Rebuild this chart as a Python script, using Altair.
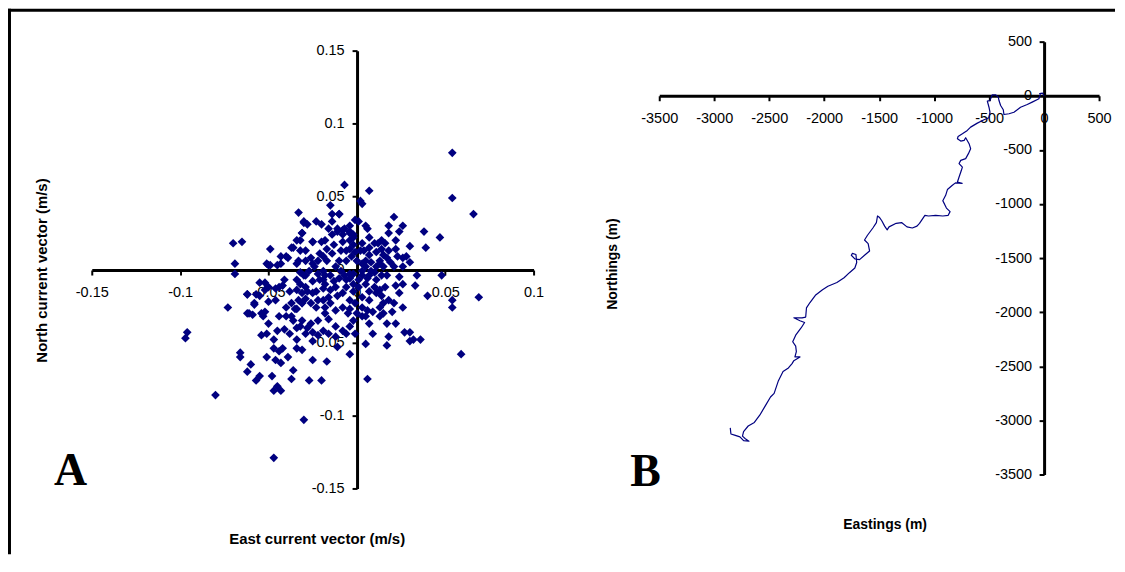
import altair as alt
import pandas as pd

# ---------------- Panel A: current vectors (m/s) ----------------
east = [
    -0.007, 0.007, 0.054, 0.066, -0.015, -0.010, -0.033, 0.002, 0.003, -0.023,
    -0.030, -0.028, -0.014, 0.021, 0.026, 0.018, 0.001, 0.005, 0.038, 0.039,
    0.047, 0.048, -0.070, -0.065, -0.049, -0.069, -0.069, -0.036, -0.040, -0.043,
    -0.034, -0.031, -0.025, -0.020, -0.032, -0.029, -0.016, -0.011, -0.008, -0.004,
    -0.002, -0.008, -0.004, 0.003, 0.014, 0.012, 0.016, 0.022, 0.022, 0.030,
    0.018, 0.023, 0.026, 0.028, 0.011, 0.015, 0.017, 0.007, 0.005, 0.003,
    0.008, -0.006, -0.003, -0.006, -0.010, -0.014, -0.019, -0.017, -0.022, -0.026,
    -0.029, -0.033, -0.034, -0.043, -0.049, -0.051, -0.001, 0.002, 0.000, -0.014,
    -0.018, -0.020, -0.014, 0.069, 0.054, 0.054, 0.040, 0.033, 0.034, 0.026,
    0.022, 0.024, 0.021, 0.026, 0.017, 0.016, 0.013, 0.015, 0.018, 0.011,
    0.007, 0.003, 0.006, 0.022, 0.027, 0.030, 0.032, 0.036, 0.030, 0.018,
    0.017, 0.017, 0.007, 0.009, 0.005, -0.004, -0.011, -0.006, -0.001, 0.059,
    0.006, -0.030, -0.080, -0.097, -0.096, -0.066, -0.066, -0.073, -0.062, -0.062,
    -0.058, -0.055, -0.054, -0.053, -0.050, -0.060, -0.062, -0.057, -0.055, -0.051,
    -0.048, -0.047, -0.043, -0.045, -0.046, -0.043, -0.039, -0.037, -0.036, -0.027,
    -0.020, -0.017, -0.025, -0.031, -0.034, -0.034, -0.029, -0.025, -0.054, -0.051,
    -0.047, -0.045, -0.041, -0.038, -0.047, -0.044, -0.042, -0.040, -0.037, -0.034,
    -0.031, -0.050, -0.046, -0.042, -0.038, -0.052, -0.050, -0.034, -0.032, -0.029,
    -0.025, -0.021, -0.029, -0.026, -0.023, -0.019, -0.016, -0.018, -0.022, -0.026,
    -0.016, -0.012, -0.012, -0.008, -0.004, -0.006, -0.002, -0.015, -0.004, 0.003,
    0.007, -0.032, -0.028, -0.019, -0.012, -0.008, 0.001, 0.005, 0.011, 0.014,
    -0.036, -0.040, -0.044, -0.047, 0.054, -0.050, -0.045, -0.039, -0.037, -0.032,
    -0.025, -0.031, -0.004, -0.002, -0.011, -0.008, -0.001, -0.062, -0.057, -0.055,
    -0.052, -0.058, -0.061, -0.059, -0.052, -0.046, -0.044, -0.041, -0.035, -0.031,
    -0.010, -0.030, -0.012, -0.009, -0.007, -0.004, -0.002, 0.003, 0.005, 0.008,
    0.011, 0.013, 0.015, -0.010, -0.013, -0.018, -0.019, -0.022, -0.024, -0.027,
    -0.030, -0.032, -0.018, -0.015, -0.019, -0.023, -0.008, -0.005, -0.002, 0.003,
    0.013, 0.015, 0.020, 0.024, 0.021, 0.026, 0.030, 0.019, -0.004, -0.007,
    0.007, 0.006, 0.018, 0.024,
    -0.029, -0.025, -0.021, -0.017, -0.013, -0.009, -0.004, -0.002, 0.004, 0.007,
    0.010, 0.014, 0.013, 0.010, 0.006, 0.001, -0.002, -0.006, -0.011, -0.015,
    -0.018, -0.022, -0.025, -0.028, -0.031, -0.033, -0.034, -0.019, -0.004, -0.001,
    0.003, 0.007, 0.010, 0.014, 0.013, 0.009, 0.005, 0.000, -0.004, -0.012,
    -0.016, -0.022, -0.025, -0.031, -0.034, -0.037,
]
north = [
    0.058, 0.054, 0.049, 0.038, 0.044, 0.038, 0.039, 0.047, 0.045, 0.033,
    0.033, 0.031, 0.033, 0.036, 0.030, 0.030, 0.033, 0.030, 0.026, 0.015,
    0.022, -0.004, 0.018, 0.019, 0.014, 0.004, -0.003, 0.015, 0.009, 0.009,
    0.020, 0.025, 0.019, 0.019, 0.013, 0.013, 0.028, 0.026, 0.024, 0.026,
    0.024, 0.019, 0.020, 0.018, 0.020, 0.018, 0.018, 0.020, 0.014, 0.016,
    0.013, 0.009, 0.008, 0.009, 0.012, 0.010, 0.008, 0.010, 0.006, 0.004,
    0.005, 0.013, 0.009, 0.006, 0.006, 0.011, 0.009, 0.006, 0.006, 0.008,
    0.006, 0.006, 0.004, 0.004, 0.003, 0.004, 0.012, 0.013, 0.006, 0.024,
    0.020, 0.031, 0.038, -0.019, -0.021, -0.026, -0.018, -0.011, -0.004, -0.010,
    -0.011, -0.016, -0.023, -0.026, -0.004, -0.012, -0.014, -0.023, -0.021, -0.016,
    -0.021, -0.026, -0.028, -0.037, -0.043, -0.049, -0.048, -0.048, -0.043, -0.046,
    -0.052, -0.037, -0.037, -0.044, -0.051, -0.058, -0.053, -0.044, -0.044, -0.058,
    -0.075, -0.103, -0.086, -0.047, -0.043, -0.057, -0.060, -0.026, -0.017, -0.030,
    -0.024, -0.018, -0.030, -0.032, -0.037, -0.065, -0.070, -0.076, -0.073, -0.060,
    -0.073, -0.083, -0.083, -0.080, -0.062, -0.064, -0.060, -0.075, -0.069, -0.076,
    -0.076, -0.063, -0.062, -0.055, -0.054, -0.048, -0.044, -0.049, -0.045, -0.044,
    -0.048, -0.042, -0.041, -0.044, -0.054, -0.056, -0.054, -0.026, -0.023, -0.027,
    -0.023, -0.012, -0.013, -0.011, -0.015, -0.014, -0.022, -0.007, -0.010, -0.012,
    -0.008, -0.007, -0.020, -0.023, -0.026, -0.021, -0.019, -0.030, -0.035, -0.037,
    -0.034, -0.028, -0.012, -0.016, -0.021, -0.007, -0.010, -0.004, -0.003, -0.004,
    -0.004, -0.039, -0.040, -0.042, -0.039, -0.042, -0.012, -0.010, -0.007, -0.004,
    -0.035, -0.032, -0.032, -0.129, 0.080, 0.003, 0.003, 0.008, 0.015, 0.020,
    0.019, 0.025, 0.025, 0.022, 0.028, 0.027, 0.034, -0.017, -0.017, -0.009,
    -0.009, -0.023, -0.030, -0.031, -0.029, -0.021, -0.012, -0.007, -0.027, -0.023,
    0.038, 0.032, 0.002, -0.001, -0.004, -0.006, -0.003, -0.001, 0.002, -0.001,
    0.002, 0.004, 0.002, -0.006, -0.008, -0.004, -0.001, -0.003, 0.002, -0.001,
    -0.004, -0.002, -0.010, -0.014, -0.013, -0.015, -0.026, -0.030, -0.035, -0.032,
    -0.032, -0.030, -0.029, -0.005, 0.002, 0.002, 0.005, 0.005, 0.030, 0.028,
    0.022, 0.028, 0.025, 0.026,
    -0.004, 0.004, 0.011, 0.014, 0.017, 0.013, 0.014, 0.017, 0.013, 0.015,
    0.018, 0.014, 0.006, -0.002, -0.006, -0.007, -0.015, -0.012, -0.018, -0.023,
    -0.026, -0.021, -0.016, -0.015, -0.016, -0.021, -0.014, -0.007, -0.027, -0.023,
    -0.019, -0.015, -0.012, -0.018, -0.026, -0.029, -0.032, -0.030, -0.039, -0.046,
    -0.044, -0.045, -0.043, -0.035, -0.040, -0.032,
]

# ---------------- Panel B: progressive vector track (m) ----------------
track_e = [
    0, -15, -40, -33, -47, -108, -153, -214, -274, -319, -365, -371, -395, -410,
    -416, -441, -471, -492, -516, -501, -492, -501, -546, -607, -668, -698, -743,
    -782, -788, -758, -727, -713, -682, -668, -688, -713, -758, -773, -743, -752,
    -773, -788, -745, -806, -834, -879, -895, -921, -904, -888, -855, -872, -921,
    -986, -1051, -1084, -1133, -1156, -1198, -1247, -1296, -1345, -1410, -1427,
    -1450, -1476, -1499, -1515, -1525, -1557, -1606, -1633, -1600, -1587, -1633,
    -1678, -1721, -1753, -1744, -1711, -1704, -1721, -1770, -1819, -1884, -1966,
    -2015, -2080, -2129, -2161, -2168, -2201, -2276, -2220, -2178, -2210, -2259,
    -2286, -2259, -2253, -2266, -2220, -2276, -2292, -2325, -2374, -2416, -2455,
    -2488, -2537, -2586, -2635, -2691, -2733, -2743, -2717, -2684, -2733, -2766,
    -2815, -2848, -2854,
]
track_n = [
    0, 25, 20, 18, -28, -59, -81, -106, -152, -166, -173, -129, -90, -44,
    -13, 9, 9, -44, -50, -106, -152, -203, -222, -253, -290, -320, -351,
    -376, -397, -419, -412, -388, -443, -489, -535, -581, -597, -627, -659, -689,
    -751, -797, -810, -805, -827, -867, -920, -970, -1004, -1038, -1071, -1105, -1111,
    -1105, -1111, -1105, -1179, -1205, -1222, -1212, -1172, -1179, -1212, -1239,
    -1205, -1155, -1122, -1111, -1172, -1222, -1289, -1333, -1367, -1434, -1474,
    -1514, -1508, -1474, -1457, -1467, -1541, -1592, -1635, -1682, -1726, -1760,
    -1793, -1844, -1911, -1961, -2045, -2052, -2052, -2079, -2095, -2146, -2213,
    -2273, -2314, -2364, -2414, -2414, -2448, -2475, -2515, -2549, -2633, -2750,
    -2784, -2868, -2952, -3019, -3052, -3103, -3146, -3170, -3193, -3187, -3153,
    -3136, -3126, -3069,
]

ticks_ax = [-0.15, -0.1, -0.05, 0, 0.05, 0.1]
ticks_ay = [-0.15, -0.1, -0.05, 0, 0.05, 0.1, 0.15]
ticks_b = [-3500, -3000, -2500, -2000, -1500, -1000, -500, 0, 500]

NAVY = "#000080"
FONT = "Liberation Sans"

scatter_df = pd.DataFrame({"east": east, "north": north})
track_df = pd.DataFrame({"step": list(range(len(track_e))), "e": track_e, "n": track_n})
one = pd.DataFrame({"k": [0]})


def make_axis(values, title, offset, tx, ty, angle, pad, tsize):
    return alt.Axis(
        values=values, title=title, offset=offset,
        titleX=tx, titleY=ty, titleAngle=angle,
        titleAlign="center", titleBaseline="middle",
        titleFont=FONT, titleFontSize=tsize, titleFontWeight="bold", titleColor="black",
        labelFont=FONT, labelFontSize=14.5, labelColor="black", labelPadding=pad,
        labelExpr="'' + datum.value", labelOverlap=False, labelFlush=False,
        grid=False, domainColor="black", domainWidth=3,
        tickColor="black", tickWidth=2, tickSize=5,
    )


# ---- Panel A ----
WA, HA = 443, 448
ax_xa = make_axis(ticks_ax, "East current vector (m/s)", -219, 225.5, 269.5, 0, 11, 15)
ax_ya = make_axis(ticks_ay, "North current vector (m/s)", -266, -316, 229, 270, 8, 15)

scatter = alt.Chart(scatter_df).mark_point(
    shape="diamond", filled=True, size=76, color=NAVY, opacity=1
).encode(
    x=alt.X("east:Q", scale=alt.Scale(domain=[-0.15, 0.1], nice=False, zero=False), axis=ax_xa),
    y=alt.Y("north:Q", scale=alt.Scale(domain=[-0.15, 0.15], range=[HA, 9], nice=False, zero=False), axis=ax_ya),
)

# figure frame (top and left border), drawn as decorations
frame_top = alt.Chart(one).mark_rule(color="black", strokeWidth=3).encode(
    x=alt.value(-84), x2=alt.value(1026), y=alt.value(-31.5)
)
frame_left = alt.Chart(one).mark_rule(color="black", strokeWidth=3).encode(
    x=alt.value(-82.5), y=alt.value(-33), y2=alt.value(514)
)
label_a = alt.Chart(one).mark_text(
    text="A", font="Liberation Serif", fontWeight="bold", fontSize=46,
    align="left", baseline="alphabetic", color="black"
).encode(x=alt.value(-38), y=alt.value(445))

panel_a = alt.layer(frame_top, frame_left, scatter, label_a).properties(width=WA, height=HA)

# ---- Panel B ----
WB, HB = 441, 434
ax_xb = make_axis(ticks_b, "Eastings (m)", -379.75, 226, 430.25, 0, 11, 14)
ax_yb = make_axis(ticks_b, "Northings (m)", -385.9, -432.9, 222.5, 270, 7.5, 14)

track = alt.Chart(track_df).mark_line(color=NAVY, strokeWidth=1.2, strokeJoin="round").encode(
    x=alt.X("e:Q", scale=alt.Scale(domain=[-3500, 500], nice=False, zero=False), axis=ax_xb),
    y=alt.Y("n:Q", scale=alt.Scale(domain=[-3500, 500], nice=False, zero=False), axis=ax_yb),
    order="step:Q",
)
label_b = alt.Chart(one).mark_text(
    text="B", font="Liberation Serif", fontWeight="bold", fontSize=46,
    align="left", baseline="alphabetic", color="black"
).encode(x=alt.value(-29), y=alt.value(446))

panel_b = alt.layer(track, label_b).properties(width=WB, height=HB)

chart = alt.hconcat(panel_a, panel_b, spacing=126, bounds="flush").properties(
    padding={"left": -2, "top": -2, "right": 0, "bottom": 0},
    autosize=alt.AutoSizeParams(type="pad"),
    background="white",
).configure_view(stroke="transparent", strokeWidth=0)

chart.save("out.html", embed_options={"renderer": "svg", "actions": False})
